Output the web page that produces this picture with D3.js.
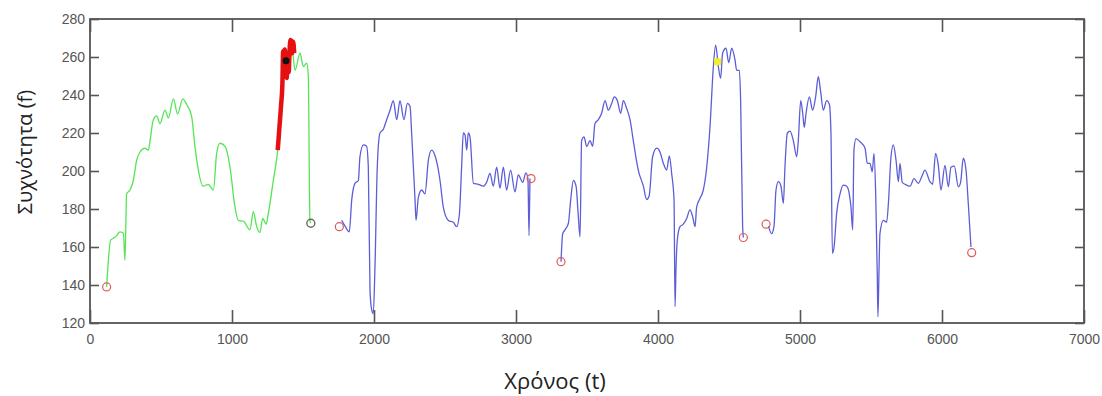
<!DOCTYPE html>
<html>
<head>
<meta charset="utf-8">
<script src="https://cdn.jsdelivr.net/npm/d3@7"></script>
<style>
  body { margin: 0; background: #fff; }
  svg { display: block; }
</style>
</head>
<body>
<div id="chart"></div>
<script>
// axis ticks
const xTicks = [0, 1000, 2000, 3000, 4000, 5000, 6000, 7000];
const yTicks = [120, 140, 160, 180, 200, 220, 240, 260, 280];

// green segment (t, f)
const greenSeg = [
  [117, 139], [146, 163.7], [164, 164.6], [188, 166], [211, 168], [235, 167.2], [246, 153],
  [258, 188], [282, 190], [305, 195], [329, 205.8], [352, 210], [387, 212], [411, 211],
  [423, 216], [446, 227], [470, 229], [493, 225], [528, 232], [552, 228], [587, 238],
  [617, 230], [653, 238], [681, 235], [716, 228.6], [739, 213], [763, 200.5], [798, 192],
  [833, 193], [869, 190], [892, 209.3], [915, 214.6], [951, 213], [986, 202], [1021, 181],
  [1045, 174], [1080, 173.6], [1127, 169], [1150, 178.6], [1174, 170.7], [1197, 167.6],
  [1216, 175], [1240, 172], [1256, 177.7], [1291, 195], [1322, 211], [1357, 244],
  [1380, 258], [1420, 266], [1444, 253], [1479, 262], [1502, 255], [1526, 256.7],
  [1537, 251], [1549, 174], [1555, 172.5]
];

// red highlighted part
const redSeg = [
  [1322, 211], [1335, 224], [1345, 234], [1355, 246], [1360, 263], [1366, 250],
  [1372, 264], [1378, 255], [1385, 249], [1392, 262], [1399, 252], [1406, 264],
  [1412, 269], [1418, 268], [1424, 262], [1431, 268], [1438, 262]
];

// blue segments
const blueSeg1 = [
  [1772, 174], [1796, 171], [1826, 168], [1843, 184.7], [1866, 193.5], [1890, 195],
  [1901, 207.5], [1925, 213.7], [1948, 213], [1960, 202], [1972, 137], [1984, 126.8],
  [1995, 125], [2007, 150], [2023, 202], [2042, 220], [2066, 222], [2089, 227], [2113, 232],
  [2136, 237], [2160, 227], [2183, 237], [2211, 227], [2235, 235.6], [2254, 234], [2265, 220],
  [2289, 184.7], [2296, 174], [2312, 186], [2336, 190], [2359, 188], [2383, 205.8],
  [2406, 211], [2430, 208], [2465, 195], [2488, 181], [2524, 174], [2559, 173], [2582, 170.7],
  [2601, 177], [2617, 202], [2629, 220], [2641, 219], [2653, 211], [2664, 220], [2676, 218],
  [2700, 193.5], [2735, 193], [2770, 192], [2793, 194], [2817, 198.8], [2840, 192],
  [2864, 202], [2887, 191], [2911, 202], [2934, 190], [2962, 200.5], [2993, 189], [3016, 198],
  [3047, 194], [3070, 199], [3084, 196], [3092, 166], [3098, 196]
];
const blueSeg2 = [
  [3317, 152.3], [3329, 167], [3345, 169], [3369, 172.5], [3385, 184.7], [3404, 195],
  [3423, 192], [3439, 176], [3451, 165.4], [3462, 216], [3479, 218], [3498, 212.8],
  [3521, 216], [3540, 213], [3556, 225], [3580, 227], [3603, 230.4], [3627, 237], [3650, 232],
  [3674, 235.6], [3692, 239], [3714, 237], [3737, 230.4], [3756, 237], [3779, 233], [3803, 227],
  [3826, 216], [3861, 200.5], [3897, 192], [3920, 185], [3938, 187], [3962, 207.5],
  [3991, 212], [4014, 210], [4038, 204], [4061, 200.5], [4080, 208], [4096, 198.8],
  [4113, 184.7], [4120, 128.6], [4127, 149.6], [4136, 163.7], [4155, 170.7], [4178, 172],
  [4202, 175], [4225, 179.5], [4244, 176], [4261, 170.7], [4272, 181], [4296, 185.6],
  [4319, 190], [4343, 202], [4366, 223], [4390, 255], [4406, 266.3], [4425, 255],
  [4441, 248.8], [4455, 262], [4479, 264.6], [4498, 257], [4519, 264.6], [4542, 258.6],
  [4554, 253], [4573, 253], [4582, 237], [4596, 170.7], [4601, 165]
];
const blueSeg3 = [
  [4778, 171], [4800, 167], [4817, 171], [4831, 190], [4848, 194.4], [4866, 192],
  [4883, 183], [4894, 202], [4911, 220], [4930, 221], [4953, 216], [4977, 207.5],
  [4988, 216], [5005, 237], [5019, 230.4], [5030, 223], [5042, 230], [5066, 239],
  [5089, 232], [5110, 239], [5129, 249.6], [5145, 242], [5164, 232], [5188, 237],
  [5207, 235], [5218, 220], [5228, 156.7], [5240, 160], [5258, 177.7], [5282, 188],
  [5305, 192.6], [5329, 192], [5347, 188], [5359, 181], [5371, 169], [5380, 211],
  [5394, 217], [5423, 215.4], [5458, 212], [5474, 204], [5493, 204], [5509, 199.6],
  [5521, 209.3], [5533, 188], [5544, 146], [5549, 123.3], [5557, 150], [5563, 167],
  [5587, 174], [5610, 173], [5624, 184.7], [5639, 205.8], [5657, 213.7], [5676, 205.8],
  [5693, 194.4], [5704, 204], [5720, 194], [5751, 192.6], [5775, 192], [5803, 196],
  [5833, 193.5], [5857, 197], [5880, 200.5], [5915, 194.4], [5934, 193], [5955, 209.3],
  [5974, 203], [5993, 190], [6021, 203], [6045, 191.7], [6063, 202], [6087, 202.6],
  [6115, 191.7], [6131, 194], [6150, 206.7], [6169, 200.5], [6185, 183], [6204, 160]
];

// markers
const startEndPoints = [
  [117, 139], [1756, 170.7], [3106, 196], [3317, 152.3], [4601, 165], [4761, 172], [6209, 157]
];
const greenEndPoint = [1555, 172.5];
const blackPoint = [1380, 258];
const yellowPoint = [4420, 257.5];

const width = 1102, height = 396;
const margin = { top: 19, right: 18, bottom: 73, left: 90 };

const svg = d3.select('#chart')
  .append('svg')
  .attr('width', width)
  .attr('height', height);

const x = d3.scaleLinear().domain([0, 7000]).range([margin.left, width - margin.right]);
const y = d3.scaleLinear().domain([120, 280]).range([height - margin.bottom, margin.top]);

const axisColor = '#555';
const fontTicks = '14px "Liberation Sans Narrow", "Liberation Sans", Arial, sans-serif';

// box
svg.append('rect')
  .attr('x', x(0)).attr('y', y(280))
  .attr('width', x(7000) - x(0)).attr('height', y(120) - y(280))
  .attr('fill', 'none').attr('stroke', axisColor).attr('stroke-width', 1.8);

// axes with inward ticks
const axBottom = svg.append('g')
  .attr('transform', `translate(0,${y(120)})`)
  .call(d3.axisBottom(x).tickValues(xTicks).tickSize(-13).tickPadding(20).tickFormat(d3.format('d')));
const axTop = svg.append('g')
  .attr('transform', `translate(0,${y(280)})`)
  .call(d3.axisTop(x).tickValues(xTicks).tickSize(-13).tickFormat(''));
const axLeft = svg.append('g')
  .attr('transform', `translate(${x(0)},0)`)
  .call(d3.axisLeft(y).tickValues(yTicks).tickSize(-9).tickPadding(14));
const axRight = svg.append('g')
  .attr('transform', `translate(${x(7000)},0)`)
  .call(d3.axisRight(y).tickValues(yTicks).tickSize(-9).tickFormat(''));

[axBottom, axTop, axLeft, axRight].forEach(g => {
  g.select('.domain').remove();
  g.selectAll('.tick line').attr('stroke', axisColor).attr('stroke-width', 1.6);
  g.selectAll('.tick text')
    .attr('fill', '#555')
    .style('font', fontTicks);
});
axBottom.selectAll('.tick text').attr('dy', '0.1em');
axLeft.selectAll('.tick text').attr('dx', '9');

// lines
const line = d3.line().curve(d3.curveMonotoneX).x(d => x(d[0])).y(d => y(d[1]));

svg.append('path')
  .datum(greenSeg)
  .attr('fill', 'none').attr('stroke', '#55e455').attr('stroke-width', 1.3)
  .attr('d', line);

[blueSeg1, blueSeg2, blueSeg3].forEach(seg => {
  svg.append('path')
    .datum(seg)
    .attr('fill', 'none').attr('stroke', '#5d5dd8').attr('stroke-width', 1.3)
    .attr('d', line);
});

svg.append('path')
  .datum(redSeg)
  .attr('fill', 'none').attr('stroke', '#e5100f').attr('stroke-width', 4.5)
  .attr('stroke-linejoin', 'round')
  .attr('d', line);

// markers
svg.selectAll('circle.endpt')
  .data(startEndPoints)
  .join('circle')
  .attr('class', 'endpt')
  .attr('cx', d => x(d[0])).attr('cy', d => y(d[1]))
  .attr('r', 4)
  .attr('fill', 'none').attr('stroke', '#e05a5a').attr('stroke-width', 1.2);

svg.append('circle')
  .attr('cx', x(greenEndPoint[0])).attr('cy', y(greenEndPoint[1]))
  .attr('r', 4)
  .attr('fill', 'none').attr('stroke', '#6e6a5a').attr('stroke-width', 1.4);

svg.append('circle')
  .attr('cx', x(blackPoint[0])).attr('cy', y(blackPoint[1]))
  .attr('r', 3.5).attr('fill', '#111');

svg.append('rect')
  .attr('x', x(yellowPoint[0]) - 3.5).attr('y', y(yellowPoint[1]) - 3.5)
  .attr('width', 7).attr('height', 7)
  .attr('fill', '#f0f030');

// axis titles
svg.append('text')
  .attr('x', 555)
  .attr('y', 389)
  .attr('text-anchor', 'middle')
  .style('font', '22px "Open Sans", sans-serif')
  .attr('fill', '#222')
  .text('Χρόνος (t)');

svg.append('text')
  .attr('transform', 'translate(32,152) rotate(-90)')
  .attr('text-anchor', 'middle')
  .style('font', '20px "Open Sans", sans-serif')
  .attr('fill', '#222')
  .text('Συχνότητα (f)');
</script>
</body>
</html>
